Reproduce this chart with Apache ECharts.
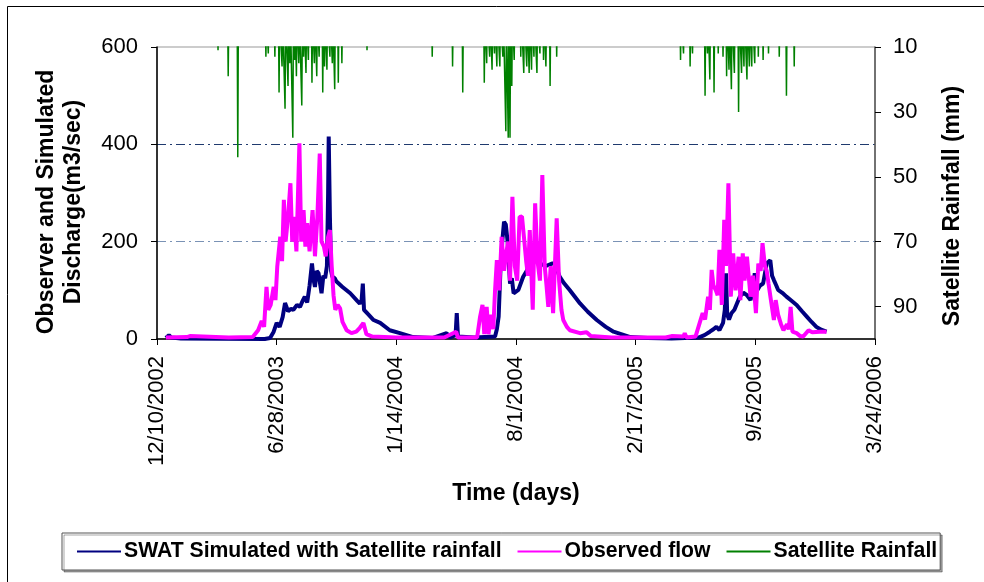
<!DOCTYPE html>
<html>
<head>
<meta charset="utf-8">
<script src="https://cdn.jsdelivr.net/npm/echarts@6/dist/echarts.min.js"></script>
<style>
html, body { margin: 0; padding: 0; background: #fff; }
#chart { width: 984px; height: 582px; }
</style>
</head>
<body>
<div id="chart"></div>
<script>
// days counted from 12/10/2002
const startDate = Date.UTC(2002, 11, 10);

// SWAT simulated flow (m3/sec)
const simDay = [15, 20, 24, 40, 180, 189, 195, 200, 205, 210,
	214, 219, 224, 228, 234, 239, 244, 247, 251, 255,
	259, 262, 264, 267, 270, 273, 275, 278, 281, 284,
	286, 287, 289, 291, 293, 297, 300, 310, 323, 335,
	339, 342, 344, 346, 352, 362, 373, 389, 406, 428,
	460, 484, 490, 499, 501, 503, 530, 565, 568, 571,
	574, 577, 580, 583, 586, 590, 593, 596, 604, 612,
	618, 626, 633, 640, 650, 660, 665, 673, 680, 690,
	707, 720, 735, 750, 763, 791, 820, 860, 905, 915,
	924, 930, 935, 940, 946, 949, 951, 953, 956, 960,
	965, 970, 974, 980, 986, 992, 996, 999, 1003, 1008,
	1013, 1019, 1025, 1028, 1031, 1035, 1038, 1045, 1052, 1060,
	1069, 1078, 1086, 1094, 1102, 1110, 1119];
const simFlow = [2, 8, 3, 1, 0, 2, 15, 33, 25, 45,
	74, 57, 62, 60, 70, 66, 80, 87, 75, 110,
	155, 120, 107, 140, 135, 110, 94, 130, 125, 150,
	300, 416, 250, 140, 128, 125, 118, 107, 94, 78,
	73, 80, 114, 60, 52, 39, 33, 18, 12, 4,
	2, 12, 3, 8, 53, 5, 3, 5, 20, 46,
	142, 200, 241, 235, 200, 114, 125, 94, 101, 128,
	140, 169, 160, 155, 150, 155, 155, 128, 115, 100,
	73, 56, 39, 25, 15, 4, 2, 1, 3, 8,
	15, 20, 25, 18, 33, 60, 135, 50, 40, 53,
	60, 75, 87, 95, 90, 80, 100, 135, 100, 110,
	114, 155, 162, 130, 121, 110, 101, 95, 87, 79,
	70, 57, 46, 35, 25, 19, 15];

// observed flow (m3/sec)
const obsDay = [15, 50, 55, 58, 120, 160, 169, 175, 179, 183,
	186, 190, 195, 198, 201, 204, 206, 209, 212, 215,
	219, 223, 226, 229, 233, 238, 241, 245, 248, 251,
	255, 260, 264, 268, 272, 275, 279, 282, 286, 289,
	292, 295, 298, 302, 306, 310, 317, 325, 333, 339,
	345, 350, 360, 400, 480, 500, 503, 535, 540, 544,
	547, 551, 554, 558, 562, 565, 568, 572, 576, 580,
	584, 587, 590, 594, 598, 602, 606, 610, 614, 617,
	620, 623, 628, 632, 636, 640, 644, 648, 651, 654,
	658, 662, 668, 672, 676, 679, 685, 690, 707, 718,
	725, 760, 850, 860, 863, 880, 882, 885, 900, 907,
	912, 916, 921, 924, 927, 930, 934, 937, 940, 944,
	948, 951, 955, 959, 963, 967, 972, 975, 979, 982,
	986, 992, 996, 1001, 1005, 1009, 1012, 1016, 1019, 1022,
	1026, 1031, 1034, 1038, 1043, 1047, 1053, 1056, 1059, 1062,
	1069, 1075, 1080, 1089, 1095, 1108, 1119];
const obsFlow = [3, 4, 6, 3, 3, 4, 18, 37, 25, 107,
	60, 70, 107, 80, 149, 150, 210, 160, 286, 200,
	251, 320, 200, 251, 180, 402, 200, 265, 190, 238,
	180, 265, 170, 250, 381, 200, 190, 170, 210, 224,
	150, 90, 60, 70, 63, 35, 18, 12, 15, 23,
	33, 10, 5, 3, 3, 15, 3, 3, 46, 70,
	10, 66, 10, 50, 20, 100, 162, 100, 210, 140,
	180, 200, 120, 292, 150, 120, 251, 252, 200, 160,
	130, 224, 60, 279, 160, 120, 337, 150, 110, 66,
	150, 53, 248, 120, 60, 39, 25, 18, 12, 14,
	6, 3, 3, 6, 3, 5, 12, 3, 5, 33,
	53, 40, 87, 60, 142, 110, 100, 90, 183, 70,
	245, 150, 320, 87, 176, 100, 169, 80, 176, 120,
	169, 87, 130, 53, 155, 140, 197, 150, 140, 114,
	80, 39, 80, 50, 30, 18, 30, 20, 66, 15,
	12, 6, 5, 18, 14, 15, 15];

// satellite rainfall (mm), dry days written as 0
const rainDay = [
	101, 102, 103, 118, 119, 120, 134, 135, 136, 181, 182, 183, 185, 186, 187,
	196, 197, 198, 203, 204, 205, 208, 209, 210, 213, 214, 215, 218, 219, 220,
	221, 222, 223, 226, 227, 228, 229, 230, 231, 232, 233, 234, 236, 237, 238,
	241, 242, 243, 244, 245, 246, 248, 249, 250, 252, 253, 254, 258, 259, 260,
	262, 263, 264, 266, 267, 268, 270, 271, 272, 276, 277, 278, 279, 280, 281,
	283, 284, 285, 288, 289, 290, 292, 293, 294, 296, 297, 298, 302, 303, 304,
	308, 309, 310, 350, 351, 352,
	459, 460, 461, 493, 494, 495, 510, 511, 512, 546, 547, 548, 550, 551, 552,
	555, 556, 557, 559, 560, 561, 563, 564, 565, 567, 568, 569, 572, 573, 574,
	577, 578, 579, 582, 583, 584, 586, 587, 588, 589, 590, 591, 592, 593, 594,
	596, 597, 598, 607, 608, 609, 612, 613, 614, 617, 618, 619, 621, 622, 623,
	625, 626, 627, 629, 630, 631, 634, 635, 636, 639, 640, 641, 645, 646, 647,
	649, 650, 651, 656, 657, 658, 667, 668, 669,
	874, 875, 876, 879, 880, 881, 890, 891, 892, 894, 895, 896, 915, 916, 917,
	919, 920, 921, 923, 924, 925, 930, 931, 932, 937, 938, 939, 945, 946, 947,
	951, 952, 953, 955, 956, 957, 959, 960, 961, 964, 965, 966, 971, 972, 973,
	976, 977, 978, 980, 981, 982, 985, 986, 987, 989, 990, 991, 993, 994, 995,
	998, 999, 1000, 1004, 1005, 1006, 1012, 1013, 1014, 1021, 1022, 1023,
	1039, 1040, 1041, 1051, 1052, 1053, 1064, 1065, 1066];
const rainMm = [
	0, 11, 0, 0, 19, 0, 0, 44, 0, 0, 13, 0, 0, 12, 0,
	0, 13, 0, 0, 24, 0, 0, 16, 0, 0, 29, 0, 0, 22, 0,
	0, 15, 0, 0, 38, 0, 0, 14, 0, 0, 19, 0, 0, 15, 0,
	0, 28, 0, 0, 13, 0, 0, 18, 0, 0, 14, 0, 0, 21, 0,
	0, 15, 0, 0, 19, 0, 0, 13, 0, 0, 24, 0, 0, 16, 0,
	0, 17, 0, 0, 13, 0, 0, 15, 0, 0, 23, 0, 0, 21, 0,
	0, 15, 0, 0, 11, 0,
	0, 13, 0, 0, 16, 0, 0, 24, 0, 0, 21, 0, 0, 15, 0,
	0, 13, 0, 0, 17, 0, 0, 12, 0, 0, 16, 0, 0, 16, 0,
	0, 13, 0, 0, 36, 0, 0, 38, 0, 0, 38, 0, 0, 22, 0,
	0, 14, 0, 0, 13, 0, 0, 18, 0, 0, 16, 0, 0, 18, 0,
	0, 17, 0, 0, 13, 0, 0, 18, 0, 0, 12, 0, 0, 14, 0,
	0, 16, 0, 0, 22, 0, 0, 13, 0,
	0, 14, 0, 0, 12, 0, 0, 16, 0, 0, 12, 0, 0, 25, 0,
	0, 12, 0, 0, 20, 0, 0, 24, 0, 0, 12, 0, 0, 13, 0,
	0, 19, 0, 0, 17, 0, 0, 23, 0, 0, 18, 0, 0, 30, 0,
	0, 18, 0, 0, 16, 0, 0, 20, 0, 0, 16, 0, 0, 16, 0,
	0, 15, 0, 0, 13, 0, 0, 14, 0, 0, 12, 0,
	0, 13, 0, 0, 25, 0, 0, 16, 0];

const fontFamily = "'Liberation Sans', Arial, sans-serif";

const fmtDay = d => {
	const t = new Date(startDate + d * 86400000);
	return (t.getUTCMonth() + 1) + "/" + t.getUTCDate() + "/" + t.getUTCFullYear();
};
const pairs = (xs, ys) => xs.map((x, i) => [x, ys[i]]);

const myChart = echarts.init(document.getElementById("chart"), null, { renderer: "canvas" });

const option = {
	animation: false,
	backgroundColor: "#fff",
	textStyle: { fontFamily: fontFamily },
	graphic: [
		{
			// outer frame
			type: "rect",
			silent: true,
			shape: { x: 7.5, y: 6.5, width: 1000, height: 700 },
			style: { fill: "none", stroke: "#000", lineWidth: 1 }
		}
	],
	grid: {
		left: 157,
		right: 109,
		top: 47,
		bottom: 243,
		show: true,
		borderColor: "#999",
		borderWidth: 1
	},
	legend: {
		left: 62,
		top: 533,
		orient: "horizontal",
		selectedMode: false,
		itemWidth: 44,
		itemHeight: 12,
		itemGap: 15,
		padding: [8, 3, 8, 14],
		borderColor: "#555",
		borderWidth: 1,
		shadowColor: "rgba(0,0,0,0.35)",
		shadowOffsetX: 2,
		shadowOffsetY: 2,
		shadowBlur: 0,
		backgroundColor: "#fff",
		// hide the marker dot, keep only the line sample
		itemStyle: { color: "rgba(0,0,0,0)", borderWidth: 0, opacity: 0 },
		textStyle: { fontSize: 21.2, fontWeight: "bold", color: "#000", fontFamily: fontFamily, padding: [0, 0, 0, -2] },
		data: ["SWAT Simulated with Satellite rainfall", "Observed flow", "Satellite Rainfall"]
	},
	xAxis: {
		type: "value",
		min: 0,
		max: 1200,
		interval: 200,
		name: "Time (days)",
		nameLocation: "middle",
		nameGap: 143,
		nameTextStyle: { fontSize: 23, fontWeight: "bold", color: "#000" },
		axisLine: { show: true, lineStyle: { color: "#000", width: 1.5 } },
		axisTick: { show: true, length: 6, lineStyle: { color: "#000" } },
		splitLine: { show: false },
		axisLabel: {
			rotate: 90,
			margin: 17,
			fontSize: 22,
			color: "#000",
			formatter: v => fmtDay(v)
		}
	},
	yAxis: [
		{
			type: "value",
			min: 0,
			max: 600,
			interval: 200,
			position: "left",
			name: "Observer and Simulated\nDischarge(m3/sec)",
			nameLocation: "middle",
			nameGap: 70,
			nameTextStyle: { fontSize: 23, fontWeight: "bold", color: "#000", lineHeight: 27, padding: [0, 18, 0, 0] },
			axisLine: { show: true, lineStyle: { color: "#000", width: 1.5 } },
			axisTick: { show: true, length: 6, lineStyle: { color: "#000" } },
			axisLabel: { fontSize: 22, color: "#000", margin: 19 },
			splitLine: {
				show: true,
				lineStyle: {
					color: ["rgba(0,0,0,0)", "#7a92b5", "#1f3a6e", "rgba(0,0,0,0)"],
					width: 1,
					type: [9, 4, 2, 4]
				}
			}
		},
		{
			type: "value",
			min: 10,
			max: 100,
			interval: 20,
			inverse: true,
			position: "right",
			name: "Satellite Rainfall (mm)",
			nameLocation: "middle",
			nameGap: 66,
			nameTextStyle: { fontSize: 23, fontWeight: "bold", color: "#000", padding: [0, 26, 0, 0] },
			axisLine: { show: true, lineStyle: { color: "#555", width: 1.5 } },
			axisTick: { show: true, length: 6, lineStyle: { color: "#000" } },
			axisLabel: { fontSize: 22, color: "#000", margin: 18, showMaxLabel: false },
			splitLine: { show: false }
		}
	],
	series: [
		{
			name: "SWAT Simulated with Satellite rainfall",
			type: "line",
			yAxisIndex: 0,
			showSymbol: false,
			symbol: "none",
			lineStyle: { color: "#000080", width: 4 },
			itemStyle: { color: "#000080" },
			data: pairs(simDay, simFlow),
			z: 2
		},
		{
			name: "Observed flow",
			type: "line",
			yAxisIndex: 0,
			showSymbol: false,
			symbol: "none",
			lineStyle: { color: "#ff00ff", width: 4 },
			itemStyle: { color: "#ff00ff" },
			data: pairs(obsDay, obsFlow),
			z: 3
		},
		{
			name: "Satellite Rainfall",
			type: "line",
			yAxisIndex: 1,
			showSymbol: false,
			symbol: "none",
			clip: true,
			lineStyle: { color: "#008000", width: 1.5 },
			itemStyle: { color: "#008000" },
			data: pairs(rainDay, rainMm),
			z: 4
		}
	]
};

myChart.setOption(option);
</script>
</body>
</html>
